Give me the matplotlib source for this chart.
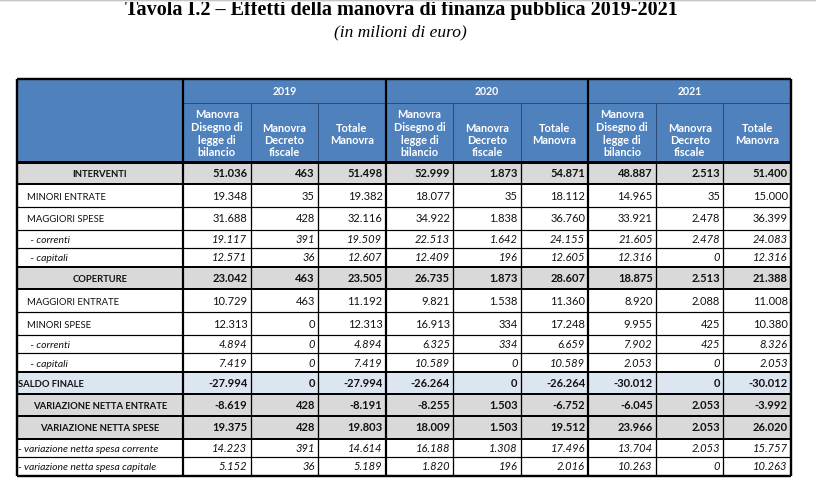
import matplotlib
matplotlib.use("Agg")
import matplotlib.pyplot as plt
from matplotlib.patches import Rectangle
import numpy as np

# ---------------- data ----------------
title = "Tavola I.2 – Effetti della manovra di finanza pubblica 2019-2021"
subtitle = "(in milioni di euro)"
years = ["2019", "2020", "2021"]
sub_headers = [["Manovra", "Disegno di", "legge di", "bilancio"],
               ["Manovra", "Decreto", "fiscale"],
               ["Totale", "Manovra"]]
row_labels = ["INTERVENTI", "MINORI ENTRATE", "MAGGIORI SPESE", " - correnti", " - capitali",
              "COPERTURE", "MAGGIORI ENTRATE", "MINORI SPESE", " - correnti", " - capitali",
              "SALDO FINALE", "VARIAZIONE NETTA ENTRATE", "VARIAZIONE NETTA SPESE",
              "- variazione netta spesa corrente", "- variazione netta spesa capitale"]

dlb_2019 = [51036, 19348, 31688, 19117, 12571, 23042, 10729, 12313, 4894, 7419, -27994, -8619, 19375, 14223, 5152]
df_2019 = [463, 35, 428, 391, 36, 463, 463, 0, 0, 0, 0, 428, 428, 391, 36]
tot_2019 = [51498, 19382, 32116, 19509, 12607, 23505, 11192, 12313, 4894, 7419, -27994, -8191, 19803, 14614, 5189]
dlb_2020 = [52999, 18077, 34922, 22513, 12409, 26735, 9821, 16913, 6325, 10589, -26264, -8255, 18009, 16188, 1820]
df_2020 = [1873, 35, 1838, 1642, 196, 1873, 1538, 334, 334, 0, 0, 1503, 1503, 1308, 196]
tot_2020 = [54871, 18112, 36760, 24155, 12605, 28607, 11360, 17248, 6659, 10589, -26264, -6752, 19512, 17496, 2016]
dlb_2021 = [48887, 14965, 33921, 21605, 12316, 18875, 8920, 9955, 7902, 2053, -30012, -6045, 23966, 13704, 10263]
df_2021 = [2513, 35, 2478, 2478, 0, 2513, 2088, 425, 425, 0, 0, 2053, 2053, 2053, 0]
tot_2021 = [51400, 15000, 36399, 24083, 12316, 21388, 11008, 10380, 8326, 2053, -30012, -3992, 26020, 15757, 10263]

columns = [dlb_2019, df_2019, tot_2019, dlb_2020, df_2020, tot_2020, dlb_2021, df_2021, tot_2021]

# ---------------- layout / style ----------------
row_kind = ["group", "item", "item", "sub", "sub", "group", "item", "item", "sub", "sub",
            "saldo", "var", "var", "subvar", "subvar"]
kind_h = {"group": 22.5, "item": 23.0, "sub": 18.3, "saldo": 22.0, "var": 22.5, "subvar": 18.5}
kind_bg = {"group": "#d9d9d9", "item": "white", "sub": "white", "saldo": "#dce6f1",
           "var": "#d9d9d9", "subvar": "white"}
kind_label_size = {"group": 6.8, "item": 6.8, "sub": 7.5, "saldo": 6.8, "var": 6.8, "subvar": 7.5}
NUM_SIZE = 8.0

FONT = ["Lato", "DejaVu Sans"]
plt.rcParams["font.family"] = FONT

W, H = 816, 487
fig = plt.figure(figsize=(W / 100, H / 100), dpi=100)
ax = fig.add_axes([0, 0, 1, 1])
ax.set_xlim(0, W)
ax.set_ylim(H, 0)
ax.axis("off")

PX = 0.72  # points per pixel

# top grey shading strip (browser edge), drawn over the clipped title
grad = np.linspace(0.55, 1.0, 20).reshape(-1, 1)
ax.imshow(grad, cmap="gray", vmin=0, vmax=1, extent=(0, W, 2.5, 0), aspect="auto", zorder=10)

x_left, x_lab = 16.5, 183.0
x_right = 791.0
ncol = len(columns)
cw = (x_right - x_lab) / ncol
col_edges = [x_lab + i * cw for i in range(ncol + 1)]

y_top, y_year, y_head = 79.0, 103.0, 161.5
row_edges = [y_head]
for k in row_kind:
    row_edges.append(row_edges[-1] + kind_h[k])

HEAD_BLUE = "#4f81bd"
LINE_BLUE = "#2c4c7c"

# title / subtitle
ax.text(401, 15.0, title, ha="center", va="baseline", fontsize=14.5,
        family="Liberation Serif", fontweight="bold", color="black", zorder=3)
ax.text(400, 36, subtitle, ha="center", va="baseline", fontsize=12.5,
        family="Liberation Serif", fontstyle="italic", color="black", zorder=3)

# header background
ax.add_patch(Rectangle((x_left, y_top), x_right - x_left, y_head - y_top,
                       facecolor=HEAD_BLUE, edgecolor="none", zorder=1))

# year labels
for i, yr in enumerate(years):
    cx = (col_edges[3 * i] + col_edges[3 * i + 3]) / 2
    ax.text(cx, (y_top + y_year) / 2 + 3.7, yr, ha="center", va="baseline",
            fontsize=7.6, fontweight="bold", color="white", zorder=3)

# sub headers
sub_line_y = [[117.5, 131, 143.5, 156.5], [132, 144.5, 156.5], [132.5, 144.5]]
for i in range(ncol):
    j = i % 3
    cx = (col_edges[i] + col_edges[i + 1]) / 2
    for line, yy in zip(sub_headers[j], sub_line_y[j]):
        ax.text(cx, yy, line, ha="center", va="baseline", fontsize=7.9,
                fontweight="bold", color="white", zorder=3)

# header inner lines
ax.hlines(y_year, x_lab, x_right, color=LINE_BLUE, lw=1.0 * PX, zorder=4)
for i in range(1, ncol):
    if i % 3 != 0:
        ax.vlines(col_edges[i], y_year, y_head, color=LINE_BLUE, lw=1.0 * PX, zorder=4)

# body rows
def fmt(v):
    return f"{v:,}".replace(",", ".")

for r, (lab, kind) in enumerate(zip(row_labels, row_kind)):
    y0, y1 = row_edges[r], row_edges[r + 1]
    yc = (y0 + y1) / 2
    yb = yc + 4.0
    ax.add_patch(Rectangle((x_left, y0), x_right - x_left, y1 - y0,
                           facecolor=kind_bg[kind], edgecolor="none", zorder=1))
    weight = "bold" if kind in ("group", "saldo", "var") else "normal"
    style = "italic" if kind in ("sub", "subvar") else "normal"
    ls = kind_label_size[kind]
    if kind in ("group", "var"):
        ax.text((x_left + x_lab) / 2, yb, lab, ha="center", va="baseline", fontsize=ls,
                fontweight=weight, fontstyle=style, color="#111111", zorder=3)
    else:
        lx = {"item": 27.0, "sub": 27.5, "saldo": 18.5, "subvar": 18.5}[kind]
        ax.text(lx, yb, lab, ha="left", va="baseline", fontsize=ls,
                fontweight=weight, fontstyle=style, color="#111111", zorder=3)
    for c in range(ncol):
        ax.text(col_edges[c + 1] - 3.2, yb, fmt(columns[c][r]), ha="right", va="baseline",
                fontsize=NUM_SIZE, fontweight=weight, fontstyle=style, color="#111111", zorder=3)

# body horizontal lines
thick_rows = set()
for r, k in enumerate(row_kind):
    if k in ("group", "saldo", "var"):
        thick_rows.add(r)
        thick_rows.add(r + 1)
for r in range(1, len(row_kind)):
    lw = 2.0 if r in thick_rows else 1.2
    ax.hlines(row_edges[r], x_left, x_right, color="black", lw=lw * PX, zorder=5)

# body vertical lines
y_bot = row_edges[-1]
for i in range(1, ncol):
    if i % 3 != 0:
        ax.vlines(col_edges[i], y_head, y_bot, color="black", lw=1.3 * PX, zorder=5)
for i in (3, 6):
    ax.vlines(col_edges[i], y_top, y_bot, color="black", lw=2.2 * PX, zorder=6)
ax.vlines(x_lab, y_top, y_bot, color="black", lw=2.2 * PX, zorder=6)

# header bottom & outer border
ax.hlines(y_head, x_left, x_right, color="black", lw=3.0 * PX, zorder=6)
ax.hlines([y_top, y_bot], x_left, x_right, color="black", lw=2.4 * PX, zorder=6)
ax.vlines([x_left, x_right], y_top, y_bot, color="black", lw=2.4 * PX, zorder=6)

fig.savefig("out.png", dpi=100, facecolor="white")
